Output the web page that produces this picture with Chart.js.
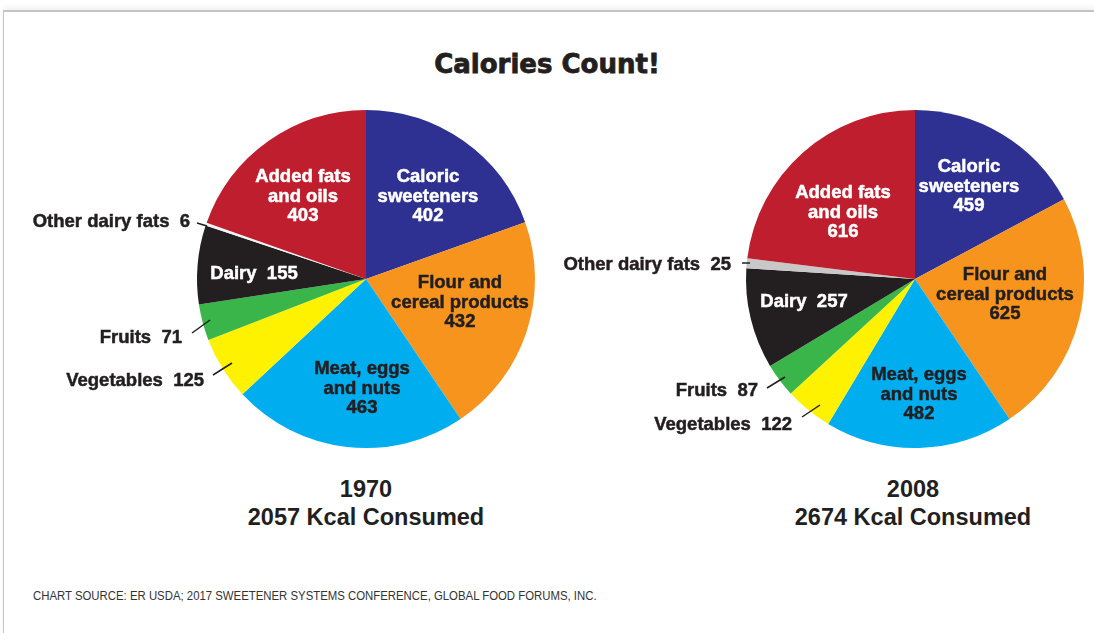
<!DOCTYPE html>
<html>
<head>
<meta charset="utf-8">
<script src="https://cdn.jsdelivr.net/npm/chart.js"></script>
<style>
    body { margin: 0; background: #fff; width: 1094px; height: 633px; overflow: hidden; position: relative; font-family: 'Liberation Sans', Arial, sans-serif; }
    .frame { position: absolute; left: 3px; top: 10px; right: -2px; bottom: -2px; border-top: 2px solid #c4c4c4; border-left: 1px solid #c4c4c4; box-shadow: 0 -3px 5px rgba(0,0,0,0.06); }
    .title { position: absolute; left: 0; width: 1094px; top: 49px; text-align: center; font-family: 'DejaVu Sans', sans-serif; font-weight: bold; font-size: 26px; color: #231f20; -webkit-text-stroke: 0.8px #231f20; }
    .caption { position: absolute; top: 475px; width: 400px; text-align: center; font-weight: bold; font-size: 23.5px; line-height: 28px; color: #231f20; }
    .source { position: absolute; left: 33px; top: 589px; font-size: 12.5px; color: #333; transform: scaleX(0.91); transform-origin: 0 0; white-space: nowrap; }
    canvas { position: absolute; }
</style>
</head>
<body>
<div class="frame"></div>
<div class="title">Calories Count!</div>
<canvas id="pie1970" style="left:0;top:100px"></canvas>
<canvas id="pie2008" style="left:548px;top:100px"></canvas>
<div class="caption" style="left:166px">1970<br>2057 Kcal Consumed</div>
<div class="caption" style="left:713px">2008<br>2674 Kcal Consumed</div>
<div class="source">CHART SOURCE: ER USDA; 2017 SWEETENER SYSTEMS CONFERENCE, GLOBAL FOOD FORUMS, INC.</div>

<script>
// Data
const categories = ['Caloric sweeteners', 'Flour and cereal products', 'Meat, eggs and nuts', 'Vegetables', 'Fruits', 'Dairy', 'Other dairy fats', 'Added fats and oils'];
const labelLines = [['Caloric', 'sweeteners'], ['Flour and', 'cereal products'], ['Meat, eggs', 'and nuts'], ['Vegetables'], ['Fruits'], ['Dairy'], ['Other dairy fats'], ['Added fats', 'and oils']];
const kcal1970 = [402, 432, 463, 125, 71, 155, 6, 403];
const kcal2008 = [459, 625, 482, 122, 87, 257, 25, 616];
const colors1970 = ['#2e3192', '#f7941e', '#00aeef', '#fff200', '#39b54a', '#231f20', '#f4f4f4', '#be1e2d'];
const colors2008 = ['#2e3192', '#f7941e', '#00aeef', '#fff200', '#39b54a', '#231f20', '#c8c8c8', '#be1e2d'];
const textColors = ['#fff', '#231f20', '#231f20', '#231f20', '#231f20', '#fff', '#231f20', '#fff'];

// Label placement, offsets from the pie centre
// inside: {dx, dy} = centre of the middle text line; inline = value on same line
// outside: right aligned text + leader line
const layout1970 = [
    {dx: 62, dy: -84},
    {dx: 94, dy: 22},
    {dx: -4, dy: 108},
    {outside: true, tx: -162, ty: 100, line: [-153, 96, -134, 84]},
    {outside: true, tx: -184, ty: 57, line: [-174, 54, -156, 41]},
    {inline: true, dx: -112, dy: -7},
    {outside: true, tx: -176, ty: -59, line: [-169, -56, -159, -53]},
    {dx: -63, dy: -84}
];
const layout2008 = [
    {dx: 54, dy: -94},
    {dx: 90, dy: 14},
    {dx: 4, dy: 114},
    {outside: true, tx: -123, ty: 144, line: [-113, 138, -95, 126]},
    {outside: true, tx: -157, ty: 110, line: [-148, 109, -130, 98]},
    {inline: true, dx: -111, dy: 21},
    {outside: true, tx: -184, ty: -16, line: [-173, -16, -165, -16]},
    {dx: -72, dy: -68}
];

const sliceLabels = {
    id: 'sliceLabels',
    afterDatasetsDraw(chart, args, opts) {
        const ctx = chart.ctx;
        const arc = chart.getDatasetMeta(0).data[0];
        const cx = arc.x, cy = arc.y + 1.5; // caps sit a bit low vs 'middle'
        const values = chart.data.datasets[0].data;
        const lh = 19.5;
        ctx.save();
        ctx.font = 'bold 18.5px "Liberation Sans", Arial, sans-serif';
        ctx.textBaseline = 'middle';
        ctx.lineWidth = 0.5;
        const put = (t, x, y, col) => {
            ctx.fillStyle = col;
            ctx.strokeStyle = col;
            ctx.fillText(t, x, y);
            ctx.strokeText(t, x, y);
        };
        opts.layout.forEach((p, i) => {
            const val = String(values[i]);
            if (p.outside) {
                ctx.textAlign = 'right';
                put(labelLines[i][0] + '  ' + val, cx + p.tx, cy + p.ty, '#231f20');
                ctx.save();
                ctx.strokeStyle = '#231f20';
                ctx.lineWidth = 1.5;
                ctx.beginPath();
                ctx.moveTo(cx + p.line[0], arc.y + p.line[1]);
                ctx.lineTo(cx + p.line[2], arc.y + p.line[3]);
                ctx.stroke();
                ctx.restore();
            } else if (p.inline) {
                ctx.textAlign = 'center';
                put(labelLines[i][0] + '  ' + val, cx + p.dx, cy + p.dy, textColors[i]);
            } else {
                ctx.textAlign = 'center';
                const lines = labelLines[i].concat([val]);
                lines.forEach((t, k) => {
                    put(t, cx + p.dx, cy + p.dy + (k - 1) * lh, textColors[i]);
                });
            }
        });
        ctx.restore();
    }
};

function makePie(id, values, colors, layout, pad) {
    const el = document.getElementById(id);
    el.width = 546;
    el.height = 360;
    new Chart(el, {
        type: 'pie',
        data: {
            labels: categories,
            datasets: [{
                data: values,
                backgroundColor: colors,
                borderWidth: 0
            }]
        },
        options: {
            responsive: false,
            animation: false,
            radius: 169,
            layout: { padding: pad },
            plugins: {
                legend: { display: false },
                tooltip: { enabled: false },
                sliceLabels: { layout: layout }
            }
        },
        plugins: [sliceLabels]
    });
}

makePie('pie1970', kcal1970, colors1970, layout1970, {left: 197, right: 11, top: 10, bottom: 12});
makePie('pie2008', kcal2008, colors2008, layout2008, {left: 198, right: 10, top: 10, bottom: 12});
</script>
</body>
</html>
